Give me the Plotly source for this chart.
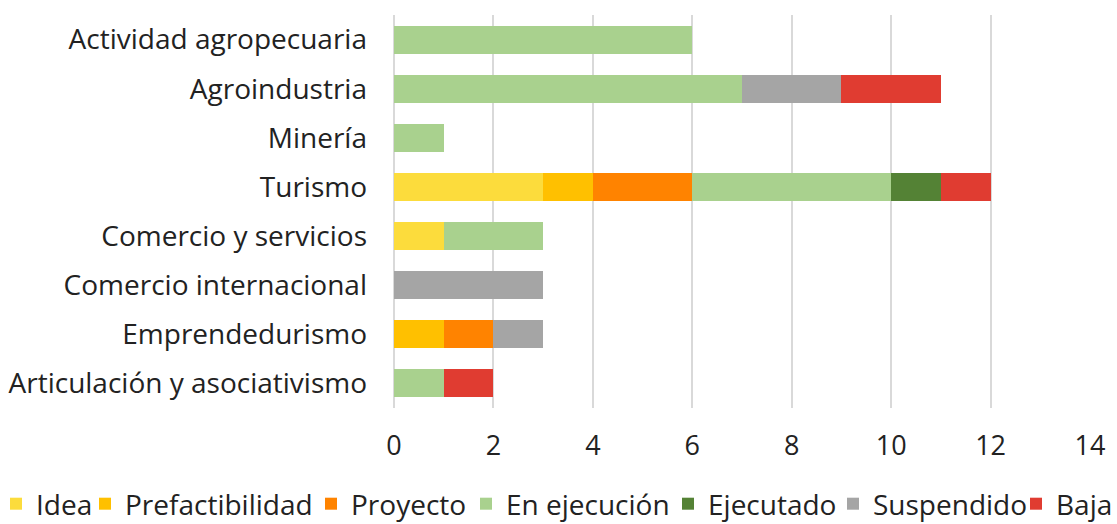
import plotly.graph_objects as go

categories = ["Actividad agropecuaria", "Agroindustria", "Minería", "Turismo",
              "Comercio y servicios", "Comercio internacional", "Emprendedurismo",
              "Articulación y asociativismo"]

series_names = ["Idea", "Prefactibilidad", "Proyecto", "En ejecución", "Ejecutado", "Suspendido", "Baja"]
idea =            [0, 0, 0, 3, 1, 0, 0, 0]
prefactibilidad = [0, 0, 0, 1, 0, 0, 1, 0]
proyecto =        [0, 0, 0, 2, 0, 0, 1, 0]
en_ejecucion =    [6, 7, 1, 4, 2, 0, 0, 1]
ejecutado =       [0, 0, 0, 1, 0, 0, 0, 0]
suspendido =      [0, 2, 0, 0, 0, 3, 1, 0]
baja =            [0, 2, 0, 1, 0, 0, 0, 1]

colors = ["#FCDC3C", "#FFC000", "#FF8300", "#A9D18E", "#548235", "#A5A5A5", "#E03C31"]
all_values = [idea, prefactibilidad, proyecto, en_ejecucion, ejecutado, suspendido, baja]

# legend entry left positions (pixels from left of page)
legend_left_px = [-4, 85, 311, 466, 668, 833, 1016]

W, H = 1117, 524
ML, MR, MT, MB = 394, 27, 15, 116
plot_w = W - ML - MR
plot_h = H - MT - MB

font_family = "Open Sans, Lato, sans-serif"

fig = go.Figure()
legend_layouts = {}
legend_y = (H - MB - 504) / plot_h
for i, (name, vals, col) in enumerate(zip(series_names, all_values, colors)):
    lname = "legend" if i == 0 else f"legend{i + 1}"
    fig.add_trace(go.Bar(
        y=categories, x=vals, name=name, orientation="h",
        marker=dict(color=col, line=dict(width=0)),
        legend=lname, showlegend=True,
    ))
    legend_layouts[lname] = dict(
        orientation="h", x=(legend_left_px[i] - ML) / plot_w, xanchor="left",
        y=legend_y, yanchor="middle",
        font=dict(size=28, family=font_family, color="#222222"),
        itemwidth=30, bgcolor="rgba(0,0,0,0)", borderwidth=0,
    )

fig.update_layout(
    barmode="stack",
    bargap=0.43,
    showlegend=True,
    width=W, height=H,
    margin=dict(l=ML, r=MR, t=MT, b=MB, autoexpand=False),
    plot_bgcolor="white", paper_bgcolor="white",
    font=dict(family=font_family, size=28, color="#222222"),
    xaxis=dict(range=[0, 14], dtick=2, showgrid=True, gridcolor="#D9D9D9", gridwidth=2,
               zeroline=True, zerolinecolor="#D9D9D9", zerolinewidth=2,
               ticks="", showline=False, tickfont=dict(size=27), ticklabelstandoff=19),
    yaxis=dict(autorange="reversed", categoryorder="array", categoryarray=categories,
               ticks="", showline=False, tickfont=dict(size=28), ticklabelstandoff=26),
    **legend_layouts,
)

fig.write_html("out.html", config={"displayModeBar": False},
               post_script="document.body.style.margin='0';document.body.style.overflow='hidden';")
